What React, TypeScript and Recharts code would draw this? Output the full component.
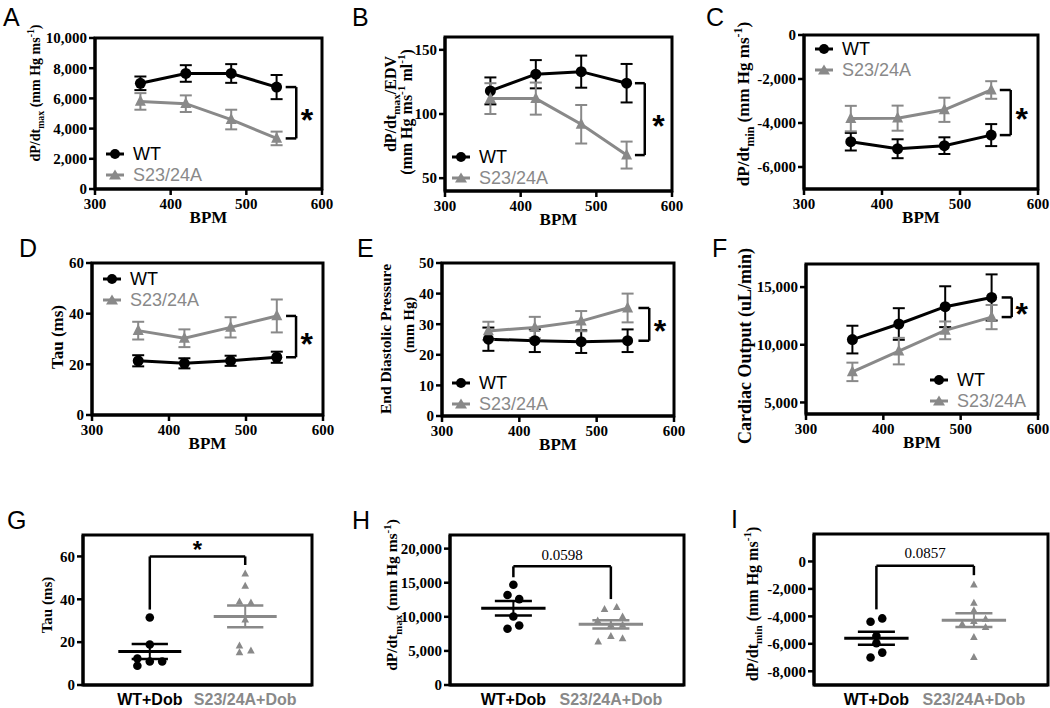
import React from "react";
import {
  LineChart,
  Line,
  ScatterChart,
  Scatter,
  XAxis,
  YAxis,
  ErrorBar,
  ReferenceArea,
  ReferenceLine,
  ReferenceDot,
  Legend,
} from "recharts";

const BLACK = "#000";
const GRAY = "#898989";
const SERIF = '"Liberation Serif", "Times New Roman", serif';
const SANS = '"Liberation Sans", Arial, sans-serif';

// ---- line panels A-F (mean +/- SEM vs heart rate) ----
const bpm = [360, 420, 480, 540];
const bpmTicks = [300, 400, 500, 600];
const seriesNames = ["WT", "S23/24A"];

const aWt = [7000, 7650, 7650, 6750];
const aWtErr = [450, 550, 620, 800];
const aMut = [5800, 5650, 4600, 3350];
const aMutErr = [550, 550, 650, 450];

const bWt = [118, 131, 133, 124];
const bWtErr = [10.5, 11, 12.5, 15];
const bMut = [112, 112, 92, 68];
const bMutErr = [12, 12.5, 15, 10.5];

const cWt = [-4850, -5170, -5030, -4550];
const cWtErr = [400, 430, 380, 500];
const cMut = [-3800, -3780, -3400, -2500];
const cMutErr = [580, 570, 550, 400];

const dWt = [21.4, 20.4, 21.4, 22.8];
const dWtErr = [2.2, 2, 2, 2.2];
const dMut = [33.3, 30.3, 34.6, 39.1];
const dMutErr = [3.5, 3.5, 4, 6.5];

const eWt = [25.1, 24.6, 24.3, 24.6];
const eWtErr = [3.8, 3.7, 3.7, 3.7];
const eMut = [27.8, 28.9, 31, 35.3];
const eMutErr = [3, 3.5, 3.3, 4.7];

const fWt = [10450, 11800, 13300, 14100];
const fWtErr = [1200, 1370, 1770, 2000];
const fMut = [7650, 9450, 11250, 12400];
const fMutErr = [800, 1150, 770, 1050];

// ---- scatter panels G-I (individual animals, dobutamine) ----
const groupLabels = ["WT+Dob", "S23/24A+Dob"];

const gWt = [31.5, 18.9, 12.4, 9.0, 11.0, 11.0];
const gWtJit = [0, 0, -0.13, -0.13, 0, 0.13];
const gMut = [52.0, 46.3, 39.0, 38.5, 30.6, 18.4, 15.3, 16.1];
const gMutJit = [0, 0, -0.06, 0.06, 0, -0.06, -0.06, 0.06];

const hWt = [14700, 13190, 12600, 10040, 8240, 8720];
const hWtJit = [0, -0.06, 0.06, 0, -0.06, 0.06];
const hMut = [11130, 11430, 9460, 10040, 8820, 8820, 6370, 7200, 6870];
const hMutJit = [-0.065, 0.06, -0.135, 0.12, 0, 0.12, -0.13, 0, 0.12];

const iWt = [-4390, -4150, -5430, -5960, -6640, -7000];
const iWtJit = [-0.06, 0.06, 0, 0, 0.06, -0.06];
const iMut = [-1670, -3000, -3560, -4530, -4170, -4340, -4780, -5500, -6960];
const iMutJit = [0, 0, 0, -0.12, 0.12, 0, 0.12, 0, 0];

type Seg = { t: string; s?: "sub" | "sup" };
type LabelLine = { x: number; y: number; fs: number; segs: Seg[] };
type Box = { l: number; r: number; t: number; b: number };

const dpdtMax: Seg[] = [{ t: "dP/dt" }, { t: "max", s: "sub" }, { t: " (mm Hg ms" }, { t: "-1", s: "sup" }, { t: ")" }];
const dpdtMin: Seg[] = [{ t: "dP/dt" }, { t: "min", s: "sub" }, { t: " (mm Hg ms" }, { t: "-1", s: "sup" }, { t: ")" }];

const PAD_L = 90;
const PAD_T = 20;
const PAD_R = 50;
const PAD_B = 40;
const Y_W = 60;
const X_H = 30;

function frame(box: Box) {
  return {
    ox: box.l - PAD_L,
    oy: box.t - PAD_T,
    width: box.r - box.l + PAD_L + PAD_R,
    height: box.b - box.t + PAD_T + PAD_B,
    margin: { top: PAD_T, right: PAD_R, left: PAD_L - Y_W, bottom: PAD_B - X_H },
  };
}

const axisLine = { stroke: BLACK, strokeWidth: 3 };
const tickLine = { stroke: BLACK, strokeWidth: 2.5 };
const tickFont = { fill: BLACK, fontFamily: SERIF, fontWeight: 700, fontSize: 15 };
const fmt = (v: number) => v.toLocaleString("en-US");

function segSpans(segs: Seg[], fs: number) {
  let shift = 0;
  return segs.map((sg, i) => {
    const target = sg.s === "sub" ? fs * 0.3 : sg.s === "sup" ? -fs * 0.4 : 0;
    const dy = target - shift;
    shift = target;
    return (
      <tspan key={i} dy={dy} fontSize={sg.s ? fs * 0.7 : fs}>
        {sg.t}
      </tspan>
    );
  });
}

function YLabel(props: any) {
  const { lines, ox, oy } = props;
  return (
    <g>
      {lines.map((ln: LabelLine, i: number) => {
        const x = ln.x - ox + ln.fs * 0.35;
        const y = ln.y - oy;
        return (
          <text
            key={i}
            x={x}
            y={y}
            transform={`rotate(-90 ${x} ${y})`}
            textAnchor="middle"
            fontFamily={SERIF}
            fontWeight={700}
            fontSize={ln.fs}
            fill={BLACK}
          >
            {segSpans(ln.segs, ln.fs)}
          </text>
        );
      })}
    </g>
  );
}

function XLabel(props: any) {
  const { px, py, text } = props;
  return (
    <text x={px} y={py} textAnchor="middle" fontFamily={SERIF} fontWeight={700} fontSize={17} fill={BLACK}>
      {text}
    </text>
  );
}

function LegendBox(props: any) {
  const payload = [...(props.payload || [])].sort(
    (a: any, b: any) => seriesNames.indexOf(a.value) - seriesNames.indexOf(b.value)
  );
  return (
    <div style={{ fontFamily: SANS, fontSize: 18, lineHeight: "21px" }}>
      {payload.map((e: any) => (
        <div key={e.value} style={{ display: "flex", alignItems: "center", height: 21, color: e.color }}>
          <svg width={18} height={14} style={{ marginRight: 9, overflow: "visible" }}>
            <line x1={0} y1={7} x2={18} y2={7} stroke={e.color} strokeWidth={3} />
            {e.type === "triangle" ? (
              <polygon points="9,1.5 15,11.5 3,11.5" fill={e.color} />
            ) : (
              <circle cx={9} cy={7} r={5} fill={e.color} />
            )}
          </svg>
          <span>{e.value}</span>
        </div>
      ))}
    </div>
  );
}

const circleDot = (r: number, fill: string) => (p: any) =>
  <circle key={`c${p.index}`} cx={p.cx} cy={p.cy} r={r} fill={fill} />;
const triDot = (w: number, fill: string) => (p: any) =>
  (
    <polygon
      key={`t${p.index}`}
      points={`${p.cx},${p.cy - w * 0.6} ${p.cx + w / 2},${p.cy + w * 0.4} ${p.cx - w / 2},${p.cy + w * 0.4}`}
      fill={fill}
    />
  );

function starShape(fs: number, text: string, bold: boolean, family: string) {
  return (p: any) => (
    <text
      x={p.cx}
      y={p.cy + (text === "*" ? fs * 0.56 : fs * 0.34)}
      textAnchor="middle"
      fontFamily={family}
      fontWeight={bold ? 700 : 400}
      fontSize={fs}
      fill={BLACK}
    >
      {text}
    </text>
  );
}

type LinePanelProps = {
  box: Box;
  yDomain: [number, number];
  yTicks: number[];
  wt: number[];
  wtErr: number[];
  mut: number[];
  mutErr: number[];
  yLabel: LabelLine[];
  legend: { x: number; y: number };
  bracketX: [number, number];
  starX: number;
};

function LinePanel(p: LinePanelProps) {
  const f = frame(p.box);
  const data = bpm.map((b, i) => ({
    bpm: b,
    wt: p.wt[i],
    wtErr: p.wtErr[i],
    mut: p.mut[i],
    mutErr: p.mutErr[i],
  }));
  const last = bpm.length - 1;
  const e1 = p.wt[last];
  const e2 = p.mut[last];
  const [bx1, bx2] = p.bracketX;
  return (
    <div style={{ position: "absolute", left: f.ox, top: f.oy }}>
      <LineChart width={f.width} height={f.height} data={data} margin={f.margin}>
        <XAxis
          type="number"
          dataKey="bpm"
          domain={[300, 600]}
          ticks={bpmTicks}
          interval={0}
          height={X_H}
          axisLine={axisLine}
          tickLine={tickLine}
          tickSize={6}
          tickMargin={3}
          tick={tickFont}
          label={<XLabel px={(p.box.l + p.box.r) / 2 - f.ox} py={p.box.b + 34 - f.oy} text="BPM" />}
        />
        <YAxis
          type="number"
          domain={p.yDomain}
          ticks={p.yTicks}
          interval={0}
          width={Y_W}
          axisLine={axisLine}
          tickLine={tickLine}
          tickSize={6}
          tick={tickFont}
          tickFormatter={fmt}
          label={<YLabel lines={p.yLabel} ox={f.ox} oy={f.oy} />}
        />
        <ReferenceArea
          x1={300}
          x2={600}
          y1={p.yDomain[0]}
          y2={p.yDomain[1]}
          fill="none"
          fillOpacity={0}
          stroke={BLACK}
          strokeWidth={3}
        />
        <ReferenceLine segment={[{ x: bx1, y: e1 }, { x: bx2, y: e1 }]} stroke={BLACK} strokeWidth={2.5} />
        <ReferenceLine segment={[{ x: bx2, y: e1 }, { x: bx2, y: e2 }]} stroke={BLACK} strokeWidth={2.5} />
        <ReferenceLine segment={[{ x: bx1, y: e2 }, { x: bx2, y: e2 }]} stroke={BLACK} strokeWidth={2.5} />
        <ReferenceDot x={p.starX} y={(e1 + e2) / 2} r={0} shape={starShape(32, "*", true, SANS)} />
        <Line
          name={seriesNames[0]}
          dataKey="wt"
          stroke={BLACK}
          strokeWidth={3}
          legendType="circle"
          dot={circleDot(5.5, BLACK)}
          activeDot={false}
          isAnimationActive={false}
        >
          <ErrorBar dataKey="wtErr" width={6} strokeWidth={2} stroke={BLACK} direction="y" />
        </Line>
        <Line
          name={seriesNames[1]}
          dataKey="mut"
          stroke={GRAY}
          strokeWidth={3}
          legendType="triangle"
          dot={triDot(11, GRAY)}
          activeDot={false}
          isAnimationActive={false}
        >
          <ErrorBar dataKey="mutErr" width={6} strokeWidth={2} stroke={GRAY} direction="y" />
        </Line>
        <Legend
          layout="horizontal"
          verticalAlign="middle"
          align="center"
          content={<LegendBox />}
          wrapperStyle={{ left: p.legend.x - f.ox, top: p.legend.y - 10.5 - f.oy, width: "auto", height: "auto" }}
        />
      </LineChart>
    </div>
  );
}

function stats(v: number[]) {
  const n = v.length;
  const m = v.reduce((a, b) => a + b, 0) / n;
  const sd = Math.sqrt(v.reduce((a, b) => a + (b - m) ** 2, 0) / (n - 1));
  return { m, sem: sd / Math.sqrt(n) };
}

function CatTick(props: any) {
  const { x, payload, yLocal } = props;
  const i = Math.round(payload.value) - 1;
  return (
    <text x={x} y={yLocal} textAnchor="middle" fontFamily={SANS} fontWeight={700} fontSize={16} fill={i === 0 ? BLACK : GRAY}>
      {groupLabels[i]}
    </text>
  );
}

type ScatterPanelProps = {
  box: Box;
  xDomain: [number, number];
  yDomain: [number, number];
  yTicks: number[];
  wt: number[];
  wtJit: number[];
  mut: number[];
  mutJit: number[];
  yLabel: LabelLine[];
  sig: { from: number; top: number; to: number; text: string; textY: number };
};

function ScatterPanel(p: ScatterPanelProps) {
  const f = frame(p.box);
  const wtData = p.wt.map((v, i) => ({ x: 1 + p.wtJit[i], y: v }));
  const mutData = p.mut.map((v, i) => ({ x: 2 + p.mutJit[i], y: v }));
  const groups = [
    { c: 1, s: stats(p.wt), color: BLACK },
    { c: 2, s: stats(p.mut), color: GRAY },
  ];
  const isStar = p.sig.text === "*";
  return (
    <div style={{ position: "absolute", left: f.ox, top: f.oy }}>
      <ScatterChart width={f.width} height={f.height} margin={f.margin}>
        <XAxis
          type="number"
          dataKey="x"
          domain={p.xDomain}
          ticks={[1, 2]}
          interval={0}
          height={X_H}
          axisLine={axisLine}
          tickLine={false}
          tick={<CatTick yLocal={p.box.b + 20 - f.oy} />}
        />
        <YAxis
          type="number"
          dataKey="y"
          domain={p.yDomain}
          ticks={p.yTicks}
          interval={0}
          width={Y_W}
          axisLine={axisLine}
          tickLine={tickLine}
          tickSize={6}
          tick={tickFont}
          tickFormatter={fmt}
          label={<YLabel lines={p.yLabel} ox={f.ox} oy={f.oy} />}
        />
        <ReferenceArea
          x1={p.xDomain[0]}
          x2={p.xDomain[1]}
          y1={p.yDomain[0]}
          y2={p.yDomain[1]}
          fill="none"
          fillOpacity={0}
          stroke={BLACK}
          strokeWidth={3}
        />
        <Scatter
          name={groupLabels[0]}
          data={wtData}
          fill={BLACK}
          isAnimationActive={false}
          shape={(q: any) => <circle cx={q.cx} cy={q.cy} r={4.3} fill={BLACK} />}
        />
        <Scatter
          name={groupLabels[1]}
          data={mutData}
          fill={GRAY}
          isAnimationActive={false}
          shape={(q: any) => (
            <polygon points={`${q.cx},${q.cy - 4} ${q.cx + 3.8},${q.cy + 3} ${q.cx - 3.8},${q.cy + 3}`} fill={GRAY} />
          )}
        />
        {groups.map((g) => [
          <ReferenceLine
            key={`m${g.c}`}
            segment={[{ x: g.c - 0.33, y: g.s.m }, { x: g.c + 0.33, y: g.s.m }]}
            stroke={g.color}
            strokeWidth={3}
          />,
          <ReferenceLine
            key={`u${g.c}`}
            segment={[{ x: g.c - 0.19, y: g.s.m + g.s.sem }, { x: g.c + 0.19, y: g.s.m + g.s.sem }]}
            stroke={g.color}
            strokeWidth={2.5}
          />,
          <ReferenceLine
            key={`l${g.c}`}
            segment={[{ x: g.c - 0.19, y: g.s.m - g.s.sem }, { x: g.c + 0.19, y: g.s.m - g.s.sem }]}
            stroke={g.color}
            strokeWidth={2.5}
          />,
          <ReferenceLine
            key={`v${g.c}`}
            segment={[{ x: g.c, y: g.s.m - g.s.sem }, { x: g.c, y: g.s.m + g.s.sem }]}
            stroke={g.color}
            strokeWidth={2}
          />,
        ])}
        <ReferenceLine segment={[{ x: 1, y: p.sig.from }, { x: 1, y: p.sig.top }]} stroke={BLACK} strokeWidth={2.5} />
        <ReferenceLine segment={[{ x: 1, y: p.sig.top }, { x: 2, y: p.sig.top }]} stroke={BLACK} strokeWidth={2.5} />
        <ReferenceLine segment={[{ x: 2, y: p.sig.top }, { x: 2, y: p.sig.to }]} stroke={BLACK} strokeWidth={2.5} />
        <ReferenceDot
          x={1.5}
          y={p.sig.textY}
          r={0}
          shape={isStar ? starShape(24, "*", true, SANS) : starShape(15, p.sig.text, false, SERIF)}
        />
      </ScatterChart>
    </div>
  );
}

const letters = [
  { t: "A", x: 3, y: 25 },
  { t: "B", x: 352, y: 25 },
  { t: "C", x: 706, y: 25 },
  { t: "D", x: 19, y: 256 },
  { t: "E", x: 357, y: 256 },
  { t: "F", x: 712, y: 256 },
  { t: "G", x: 7, y: 528 },
  { t: "H", x: 352, y: 528 },
  { t: "I", x: 731, y: 527 },
];

export default function App() {
  return (
    <div
      style={{
        position: "absolute",
        left: 0,
        top: 0,
        width: 1050,
        height: 708,
        overflow: "hidden",
        background: "#fff",
      }}
    >
      <LinePanel
        box={{ l: 95, r: 322, t: 38, b: 189 }}
        yDomain={[0, 10000]}
        yTicks={[0, 2000, 4000, 6000, 8000, 10000]}
        wt={aWt}
        wtErr={aWtErr}
        mut={aMut}
        mutErr={aMutErr}
        yLabel={[{ x: 35, y: 93, fs: 14, segs: dpdtMax }]}
        legend={{ x: 106, y: 154 }}
        bracketX={[552, 566]}
        starX={580}
      />
      <LinePanel
        box={{ l: 445, r: 672, t: 37, b: 191 }}
        yDomain={[40, 160]}
        yTicks={[50, 100, 150]}
        wt={bWt}
        wtErr={bWtErr}
        mut={bMut}
        mutErr={bMutErr}
        yLabel={[
          { x: 390, y: 104, fs: 16, segs: [{ t: "dP/dt" }, { t: "max", s: "sub" }, { t: "/EDV" }] },
          {
            x: 406,
            y: 112,
            fs: 16,
            segs: [{ t: "(mm Hg ms" }, { t: "-1", s: "sup" }, { t: " ml" }, { t: "-1", s: "sup" }, { t: ")" }],
          },
        ]}
        legend={{ x: 452, y: 157 }}
        bracketX={[551, 564]}
        starX={582}
      />
      <LinePanel
        box={{ l: 804, r: 1038, t: 35, b: 189 }}
        yDomain={[-7000, 0]}
        yTicks={[-6000, -4000, -2000, 0]}
        wt={cWt}
        wtErr={cWtErr}
        mut={cMut}
        mutErr={cMutErr}
        yLabel={[{ x: 743, y: 104, fs: 17, segs: dpdtMin }]}
        legend={{ x: 815, y: 49 }}
        bracketX={[551, 565]}
        starX={579}
      />
      <LinePanel
        box={{ l: 92, r: 323, t: 263, b: 415 }}
        yDomain={[0, 60]}
        yTicks={[0, 20, 40, 60]}
        wt={dWt}
        wtErr={dWtErr}
        mut={dMut}
        mutErr={dMutErr}
        yLabel={[{ x: 57, y: 337, fs: 17, segs: [{ t: "Tau (ms)" }] }]}
        legend={{ x: 103, y: 279 }}
        bracketX={[552, 565]}
        starX={579}
      />
      <LinePanel
        box={{ l: 442, r: 674, t: 263, b: 416 }}
        yDomain={[0, 50]}
        yTicks={[0, 10, 20, 30, 40, 50]}
        wt={eWt}
        wtErr={eWtErr}
        mut={eMut}
        mutErr={eMutErr}
        yLabel={[
          { x: 386, y: 339, fs: 15.5, segs: [{ t: "End Diastolic Pressure" }] },
          { x: 409, y: 325, fs: 14.5, segs: [{ t: "(mm Hg)" }] },
        ]}
        legend={{ x: 452, y: 383 }}
        bracketX={[554, 568]}
        starX={582}
      />
      <LinePanel
        box={{ l: 806, r: 1038, t: 264, b: 414 }}
        yDomain={[4000, 17000]}
        yTicks={[5000, 10000, 15000]}
        wt={fWt}
        wtErr={fWtErr}
        mut={fMut}
        mutErr={fMutErr}
        yLabel={[{ x: 745, y: 346, fs: 18, segs: [{ t: "Cardiac Output (uL/min)" }] }]}
        legend={{ x: 930, y: 380 }}
        bracketX={[553, 566]}
        starX={579}
      />
      <ScatterPanel
        box={{ l: 83, r: 312, t: 535, b: 685 }}
        xDomain={[0.3, 2.7]}
        yDomain={[0, 70]}
        yTicks={[0, 20, 40, 60]}
        wt={gWt}
        wtJit={gWtJit}
        mut={gMut}
        mutJit={gMutJit}
        yLabel={[{ x: 47, y: 605, fs: 15, segs: [{ t: "Tau (ms)" }] }]}
        sig={{ from: 35.2, top: 60, to: 56, text: "*", textY: 65.7 }}
      />
      <ScatterPanel
        box={{ l: 450, r: 684, t: 535, b: 685 }}
        xDomain={[0.35, 2.75]}
        yDomain={[0, 22000]}
        yTicks={[0, 5000, 10000, 15000, 20000]}
        wt={hWt}
        wtJit={hWtJit}
        mut={hMut}
        mutJit={hMutJit}
        yLabel={[{ x: 392, y: 595, fs: 15.5, segs: dpdtMax }]}
        sig={{ from: 15800, top: 17400, to: 12600, text: "0.0598", textY: 19100 }}
      />
      <ScatterPanel
        box={{ l: 814, r: 1048, t: 534, b: 685 }}
        xDomain={[0.36, 2.76]}
        yDomain={[-9000, 2000]}
        yTicks={[-8000, -6000, -4000, -2000, 0]}
        wt={iWt}
        wtJit={iWtJit}
        mut={iMut}
        mutJit={iMutJit}
        yLabel={[{ x: 752, y: 604, fs: 16, segs: dpdtMin }]}
        sig={{ from: -3490, top: -320, to: -1000, text: "0.0857", textY: 650 }}
      />
      <svg width={1050} height={708} style={{ position: "absolute", left: 0, top: 0, pointerEvents: "none" }}>
        {letters.map((l) => (
          <text key={l.t} x={l.x} y={l.y + 1} fontFamily={SANS} fontSize={25} fill={BLACK}>
            {l.t}
          </text>
        ))}
      </svg>
    </div>
  );
}
